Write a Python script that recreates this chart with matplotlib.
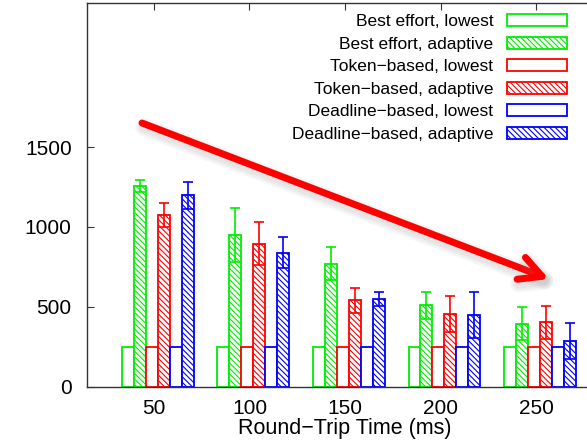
import matplotlib
matplotlib.use("Agg")
import matplotlib.pyplot as plt
import matplotlib.patheffects as pe
from matplotlib.patches import Patch
import numpy as np

plt.rcParams["font.family"] = ["Liberation Sans", "DejaVu Sans"]
plt.rcParams["hatch.linewidth"] = 0.8

# Round-trip times (ms) on the x axis
rtt_labels = ["50", "100", "150", "200", "250"]

# Bitrate per scheduling scheme (lowest fixed rate vs. adaptive rate)
best_lowest = [250, 250, 250, 250, 250]
best_adaptive = [1255, 948, 771, 509, 394]
best_adaptive_err = [37, 169, 104, 85, 103]

token_lowest = [250, 250, 250, 250, 250]
token_adaptive = [1073, 896, 540, 454, 404]
token_adaptive_err = [75, 136, 76, 112, 104]

deadline_lowest = [250, 250, 250, 250, 250]
deadline_adaptive = [1198, 838, 550, 446, 286]
deadline_adaptive_err = [86, 98, 43, 144, 113]

series_labels = [
    "Best effort, lowest",
    "Best effort, adaptive",
    "Token\u2212based, lowest",
    "Token\u2212based, adaptive",
    "Deadline\u2212based, lowest",
    "Deadline\u2212based, adaptive",
]
y_ticks = [0, 500, 1000, 1500]

GREEN, RED, BLUE = "#00ee00", "#ff0000", "#0000ff"
HATCH = "\\" * 6

series = [
    (best_lowest, None, GREEN, ""),
    (best_adaptive, best_adaptive_err, GREEN, HATCH),
    (token_lowest, None, RED, ""),
    (token_adaptive, token_adaptive_err, RED, HATCH),
    (deadline_lowest, None, BLUE, ""),
    (deadline_adaptive, deadline_adaptive_err, BLUE, HATCH),
]

W, H = 587, 442
fig = plt.figure(figsize=(W / 100, H / 100), dpi=100)
ax = fig.add_axes([87 / W, (H - 386.7) / H, (603 - 87) / W, (386.7 - 3.3) / H])

x = np.arange(len(rtt_labels))
bar_w = 0.125
shift = 0.04
for i, (vals, err, col, hatch) in enumerate(series):
    pos = x + shift + (i - 2.5) * bar_w
    ax.bar(pos, vals, width=bar_w, facecolor="white", edgecolor=col,
           hatch=hatch, linewidth=1.3, zorder=2)
    if err is not None:
        ax.errorbar(pos, vals, yerr=err, fmt="none", ecolor=col,
                    elinewidth=1.2, capsize=3.5, capthick=1.2, zorder=3)

ax.set_xlim(-0.70, 4.70)
ax.set_ylim(0, 2400)
ax.set_xticks(x)
ax.set_xticklabels(rtt_labels)
ax.set_yticks(y_ticks)
ax.tick_params(axis="both", direction="in", top=True, right=False,
               length=5, width=0.8, labelsize=15, color="#333333")
ax.tick_params(axis="y", pad=11)
ax.tick_params(axis="x", pad=9)
for s in ax.spines.values():
    s.set_color("#333333")
    s.set_linewidth(1.0)
ax.set_xlabel("Round\u2212Trip Time (ms)", fontsize=15.5, labelpad=0)

handles = [Patch(facecolor="white", edgecolor=col, hatch=hatch, linewidth=1.3)
           for (_, _, col, hatch) in series]
ax.legend(handles, series_labels, loc="upper right",
          bbox_to_anchor=(567 / W, (H - 14) / H), bbox_transform=fig.transFigure,
          frameon=False, markerfirst=False, fontsize=12.5,
          handlelength=3.45, handleheight=0.69, handletextpad=0.8,
          labelspacing=0.43, borderpad=0, borderaxespad=0)

# Trend arrow with a soft drop shadow
shadow = [pe.Stroke(linewidth=lw, foreground="#808080", alpha=0.07, offset=(1.5, -3))
          for lw in (13, 10, 7)]
ax.annotate("", xy=(549 / W, 1 - 279 / H), xytext=(142 / W, 1 - 123 / H),
            xycoords="figure fraction", textcoords="figure fraction",
            arrowprops=dict(arrowstyle="->, head_length=0.8, head_width=0.42",
                            color="red", lw=5.0, capstyle="round",
                            joinstyle="round", mutation_scale=20,
                            shrinkA=0, shrinkB=0,
                            path_effects=shadow + [pe.Normal()]),
            zorder=5)

fig.savefig("out.png", dpi=100)
